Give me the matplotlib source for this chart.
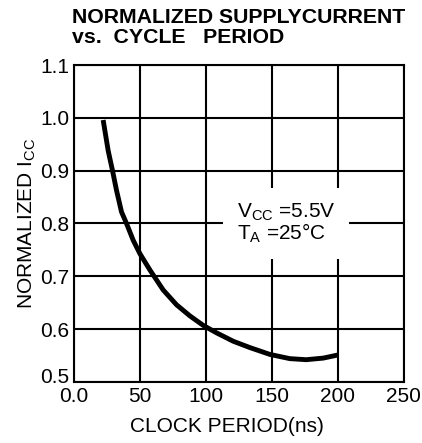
import matplotlib.pyplot as plt
import matplotlib.transforms as mtransforms

plt.rcParams["font.family"] = ["Liberation Sans", "DejaVu Sans"]
plt.rcParams["mathtext.fontset"] = "custom"
plt.rcParams["mathtext.rm"] = "Liberation Sans"
plt.rcParams["mathtext.it"] = "Liberation Sans"

# kurven lest av bildet
periode = [22.2, 26, 29.3, 32.3, 36.1, 39.9, 45, 50, 57.6, 67.7, 77.8, 87.9, 98,
           108, 120.7, 133.3, 148.5, 163.6, 176, 188.9, 200.2]
strom = [0.996, 0.938, 0.90, 0.863, 0.822, 0.80, 0.768, 0.743, 0.712, 0.674, 0.646,
         0.625, 0.607, 0.593, 0.577, 0.565, 0.552, 0.544, 0.542, 0.545, 0.551]

x_ticks = [0, 50, 100, 150, 200, 250]
x_labels = ["0.0", "50", "100", "150", "200", "250"]
y_ticks = [0.5, 0.6, 0.7, 0.8, 0.9, 1.0, 1.1]

fig = plt.figure(figsize=(4.22, 4.43), dpi=100)
ax = fig.add_axes([0.175, 0.138, 0.782, 0.715])

ax.plot(periode, strom, color="black", linewidth=3.5, solid_joinstyle="round",
        solid_capstyle="butt", zorder=3)

ax.set_xlim(0, 250)
ax.set_ylim(0.5, 1.1)
ax.set_xticks(x_ticks)
ax.set_xticklabels(x_labels)
ax.set_yticks(y_ticks)
ax.tick_params(length=0, labelsize=15)
ax.tick_params(axis="x", pad=4)
ax.tick_params(axis="y", pad=3)
ax.grid(True, color="black", linewidth=1.5)
for s in ax.spines.values():
    s.set_linewidth(1.5)

# 0.5 ligger litt over aksen i originalen
lab = ax.get_yticklabels()[0]
lab.set_transform(lab.get_transform() + mtransforms.ScaledTranslation(0, 6 / 100, fig.dpi_scale_trans))

ax.text(123.5, 0.80, "V$_{\\mathrm{CC}}$ =5.5V\nT$_{\\mathrm{A}}$ =25°C", fontsize=15,
        ha="left", va="center", linespacing=0.95, zorder=4,
        bbox=dict(facecolor="white", edgecolor="none", pad=10))

ax.set_xlabel("CLOCK PERIOD(ns)", fontsize=15)
ax.xaxis.set_label_coords(0.464, -0.112)
ax.set_ylabel("NORMALIZED I$_{\\mathrm{CC}}$", fontsize=15, labelpad=2)

fig.text(0.171, 0.983, "NORMALIZED SUPPLYCURRENT\nvs.  CYCLE   PERIOD", fontsize=15.3,
         fontweight="bold", ha="left", va="top", linespacing=1.12)

fig.savefig("out.png", dpi=100)
